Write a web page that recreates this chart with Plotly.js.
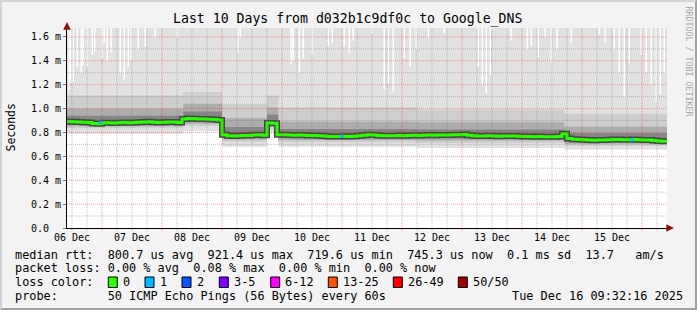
<!DOCTYPE html>
<html><head><meta charset="utf-8">
<script src="https://cdn.plot.ly/plotly-3.0.1.min.js"></script>
<style>
html,body{margin:0;padding:0;background:#f3f3f3;}
#wrap{position:relative;width:697px;height:310px;overflow:hidden;}
#chart{width:697px;height:310px;}
#frame{position:absolute;left:0;top:0;width:697px;height:310px;box-sizing:border-box;border-top:2px solid #d4d4d4;border-left:2px solid #d4d4d4;border-right:2px solid #a0a0a0;border-bottom:2px solid #a0a0a0;pointer-events:none;}
</style></head><body>
<div id="wrap"><div id="chart"></div><div id="frame"></div></div>
<script>
// ---------- data (ms, hours since 2025-12-06 10:00) ----------
const HOURS = [0,2,4,6,8,10,12,14,16,18,20,22,24,26,28,30,32,34,36,38,40,42,44,
  46,48,50,52,54,56,58,60,62,64,66,68,70,72,74,76,78,80,82,
  84,86,88,90,92,94,96,98,100,102,104,106,108,110,112,114,116,118,120,122,
  124,126,128,130,132,134,136,138,140,142,144,146,148,150,152,154,156,158,160,162,
  164,166,168,170,172,174,176,178,180,182,184,186,188,190,192,194,196,198,
  200,202,204,206,208,210,212,214,216,218,220,222,224,226,228,230,232,234,236,238,240];
const MEDIAN_MS = [0.892,0.890,0.888,0.886,0.884,0.876,0.874,0.882,0.882,0.880,0.881,0.883,0.882,0.884,0.885,0.887,0.889,0.886,0.884,0.885,0.887,0.888,0.884,
  0.912,0.918,0.916,0.913,0.912,0.910,0.908,0.904,
  0.780,0.772,0.770,0.772,0.775,0.774,0.778,0.780,0.776,
  0.880,0.878,
  0.782,0.780,0.778,0.776,0.778,0.777,0.775,0.774,0.772,0.770,0.767,0.766,0.767,0.768,0.766,0.768,0.772,0.776,0.780,0.778,
  0.774,0.772,0.773,0.772,0.774,0.773,0.775,0.776,0.774,0.776,0.778,0.777,0.778,0.779,0.778,0.780,0.782,0.784,0.776,0.772,
  0.770,0.771,0.772,0.770,0.769,0.770,0.771,0.770,0.768,0.767,0.766,0.765,0.766,0.765,0.764,0.765,0.766,0.790,
  0.750,0.744,0.742,0.740,0.737,0.735,0.736,0.737,0.740,0.742,0.741,0.740,0.739,0.741,0.740,0.738,0.737,0.733,0.728,0.726,0.735];

// smoke distribution per period
const SEG_HOURS = [0, 46.5, 62, 80, 84.5, 140, 199, 240];
const SMOKE_MIN = [0.790, 0.810, 0.680, 0.800, 0.680, 0.670, 0.655, 0.655];
const SMOKE_P10 = [0.835, 0.855, 0.722, 0.830, 0.718, 0.712, 0.688, 0.688];
const SMOKE_P20 = [0.852, 0.874, 0.742, 0.846, 0.737, 0.733, 0.706, 0.706];
const SMOKE_P30 = [0.866, 0.892, 0.758, 0.862, 0.753, 0.750, 0.722, 0.722];
const SMOKE_P70 = [0.940, 0.975, 0.845, 0.950, 0.830, 0.825, 0.795, 0.795];
const SMOKE_P80 = [1.000, 1.040, 0.920, 1.010, 0.890, 0.885, 0.850, 0.850];
const SMOKE_P90 = [1.110, 1.140, 1.040, 1.110, 1.010, 0.990, 0.955, 0.955];
const SMOKE_MAX = [1.950, 1.950, 1.950, 1.950, 1.950, 1.950, 1.950, 1.950];

// intervals whose maximum stayed below the top of the graph
const DIP_HOURS = [0.9,1.5,2.5,4.1,5.7,6.5,8.1,10.1,11.1,14.1,14.9,16.1,17.7,21.3,22.9,24.5,25.7,28.5,31.3,35.3,44.1,
  68.3,69.3,89.7,90.5,92.9,94.5,98.1,104.5,106.1,110.9,112.9,114.5,122.1,126.9,128.5,130.5,134.9,137.3,139.7,144.5,150.9,
  164.5,166.1,167.7,169.3,177.7,184.1,185.7,188.5,191.3,193.7,196.1,201.7,212.9,215.3,218.9,220.9,222.9,224.9,229.7,231.7,233.7,235.7,237.3,238.9];
const DIP_MAX = [1.16,1.22,1.22,1.35,1.30,1.36,1.35,1.45,1.48,1.42,1.55,1.40,1.47,1.30,1.24,1.35,1.40,1.50,1.52,1.60,1.60,
  1.47,1.60,1.37,1.40,1.30,1.42,1.45,1.52,1.55,1.52,1.47,1.57,1.63,1.16,1.21,1.14,1.42,1.35,1.50,1.59,1.63,
  1.35,1.20,1.13,1.28,1.57,1.49,1.52,1.43,1.60,1.38,1.50,1.55,1.62,1.55,1.49,1.30,1.10,1.38,1.45,1.30,1.20,1.05,1.12,1.30];

const LOSS1_HOURS = [13.3, 110, 226];
const LOSS1_MS = [0.885, 0.770, 0.737];

const DAY_LABELS = ['06 Dec','07 Dec','08 Dec','09 Dec','10 Dec','11 Dec','12 Dec','13 Dec','14 Dec','15 Dec'];
const Y_TICKS = [0,0.2,0.4,0.6,0.8,1.0,1.2,1.4,1.6];
const Y_LABELS = ['0.0\u00a0\u00a0','0.2 m','0.4 m','0.6 m','0.8 m','1.0 m','1.2 m','1.4 m','1.6 m'];

const TITLE = 'Last 10 Days from d032b1c9df0c to Google_DNS';
const RTT_LINE = 'median rtt:  800.7 us avg  921.4 us max  719.6 us min  745.3 us now  0.1 ms sd  13.7   am/s';
const LOSS_LINE = 'packet loss: 0.00 % avg  0.08 % max  0.00 % min  0.00 % now';
const PROBE_LINE = 'probe:       50 ICMP Echo Pings (56 Bytes) every 60s';
const STAMP = 'Tue Dec 16 09:32:16 2025';
const LOSS_LEVELS = ['0','1','2','3-5','6-12','13-25','26-49','50/50'];
const LOSS_COLORS = ['#26ff00','#00b8ff','#0059ff','#7e00ff','#ff00ff','#ff5500','#ff0000','#a00000'];

// ---------- drawing ----------
const T0 = Date.UTC(2025,11,6,10,0,0);
const HR = 3600000;
const toT = h => T0 + h*HR;
const L=67, R=667, TOP=28, BOT=228;
const px2x = px => (px-L)/(R-L);
const py2y = py => (BOT-py)/(BOT-TOP);
const nb = s => s.replace(/ /g,'\u00a0');
const MONO = 'DejaVu Sans Mono, monospace';

const segX = SEG_HOURS.map(toT);
const traces = [];
function band(lo, hi, color){
  traces.push({x:segX, y:lo, mode:'lines', line:{width:0, shape:'hv'}, hoverinfo:'skip', showlegend:false});
  traces.push({x:segX, y:hi, mode:'lines', fill:'tonexty', fillcolor:color, line:{width:0, shape:'hv'}, hoverinfo:'skip', showlegend:false});
}
band(SMOKE_MIN, SMOKE_MAX, '#e1e1e1');
const dx=[], dy=[];
DIP_HOURS.forEach((h,i)=>{dx.push(toT(h),toT(h),null); dy.push(DIP_MAX[i],SMOKE_MAX[0],null);});
traces.push({x:dx, y:dy, mode:'lines', line:{color:'#ffffff', width:1.6}, hoverinfo:'skip', showlegend:false});
band(SMOKE_P10, SMOKE_P90, '#cecece');
band(SMOKE_P20, SMOKE_P80, '#adadad');
band(SMOKE_P30, SMOKE_P70, '#868686');
const medX = HOURS.map(toT);
traces.push({x:medX, y:MEDIAN_MS, mode:'lines', line:{color:'#474747', width:6, shape:'hv'}, hoverinfo:'skip', showlegend:false});
traces.push({x:medX, y:MEDIAN_MS, mode:'lines', line:{color:'#26ff00', width:3, shape:'hv'}, showlegend:false});
traces.push({x:LOSS1_HOURS.map(toT), y:LOSS1_MS, mode:'markers', marker:{symbol:'square', size:3, color:LOSS_COLORS[1]}, showlegend:false});

// grid (drawn above the smoke, like rrdtool)
const shapes = [];
const MAJ = 'rgba(255,0,0,0.38)', MIN = 'rgba(110,110,110,0.42)', DASH='1px,1px';
const firstDay = Date.UTC(2025,11,6);
for(let k=2; k<=41; k++){
  const t = firstDay + k*6*HR;
  if(t<=toT(0) || t>=toT(240)) continue;
  const major = (k%4===0);
  shapes.push({type:'line', layer:'above', xref:'x', yref:'paper', x0:t, x1:t, y0:0, y1:1,
    line:{color:major?MAJ:MIN, width:1, dash:DASH}});
  shapes.push({type:'line', layer:'above', xref:'x', yref:'paper', x0:t, x1:t, y0:0, y1:-0.011,
    line:{color:major?'rgba(255,0,0,0.6)':'rgba(110,110,110,0.6)', width:1}});
}
for(let k=1; k<=16; k++){
  const v = k*0.1;
  shapes.push({type:'line', layer:'above', xref:'paper', yref:'y', x0:0, x1:1, y0:v, y1:v,
    line:{color:(k%2===0)?MAJ:MIN, width:1, dash:DASH}});
}
const SW_X = [108.3,145,182,219.3,270.7,328.3,393.3,458.3];
const annotations = [];
LOSS_LEVELS.forEach((lab,i)=>{
  shapes.push({type:'rect', layer:'above', xref:'paper', yref:'paper',
    x0:px2x(SW_X[i]), x1:px2x(SW_X[i]+9), y0:py2y(287.5), y1:py2y(277),
    line:{color:'#000', width:1}, fillcolor:LOSS_COLORS[i]});
  annotations.push({xref:'paper', yref:'paper', x:px2x(SW_X[i]+12.5), y:py2y(282.3), xanchor:'left', yanchor:'middle',
    text:nb(lab), showarrow:false, font:{family:MONO, size:11.85, color:'#000'}});
});
const lineAnn = (txt, py) => ({xref:'paper', yref:'paper', x:px2x(13), y:py2y(py), xanchor:'left', yanchor:'middle',
  text:nb(txt), showarrow:false, font:{family:MONO, size:11.85, color:'#000'}});
annotations.push(lineAnn(RTT_LINE, 254.5));
annotations.push(lineAnn(LOSS_LINE, 268.4));
annotations.push(lineAnn('loss color:', 282.3));
annotations.push(lineAnn(PROBE_LINE, 296.1));
annotations.push({xref:'paper', yref:'paper', x:px2x(685), y:py2y(296.1), xanchor:'right', yanchor:'middle',
  text:nb(STAMP), showarrow:false, font:{family:MONO, size:11.85, color:'#000'}});
annotations.push({xref:'paper', yref:'paper', x:px2x(347.7), y:py2y(19), xanchor:'center', yanchor:'middle',
  text:TITLE, showarrow:false, font:{family:MONO, size:13.2, color:'#000'}});
annotations.push({xref:'paper', yref:'paper', x:px2x(10.5), y:py2y(128), xanchor:'center', yanchor:'middle',
  text:'Seconds', textangle:-90, showarrow:false, font:{family:MONO, size:11.5, color:'#000'}});
annotations.push({xref:'paper', yref:'paper', x:px2x(688.5), y:py2y(61), xanchor:'center', yanchor:'middle',
  text:nb('RRDTOOL / TOBI OETIKER'), textangle:90, showarrow:false, font:{family:MONO, size:8.3, color:'#a8a8a8'}});
annotations.push({xref:'paper', yref:'paper', x:px2x(674), y:0, ax:-8, ay:0, text:'', showarrow:true,
  arrowhead:2, arrowsize:1.1, arrowwidth:1.4, arrowcolor:'#8b1010'});
annotations.push({xref:'paper', yref:'paper', x:0, y:py2y(22), ax:0, ay:7, text:'', showarrow:true,
  arrowhead:2, arrowsize:1.1, arrowwidth:1.4, arrowcolor:'#8b1010'});

const layout = {
  width:697, height:310,
  margin:{l:L, r:697-R, t:TOP, b:310-BOT, pad:0},
  paper_bgcolor:'#f3f3f3', plot_bgcolor:'#ffffff',
  font:{family:MONO, color:'#000'},
  showlegend:false,
  xaxis:{type:'date', range:[toT(0), toT(240)], tickmode:'array',
    tickvals:DAY_LABELS.map((d,i)=>Date.UTC(2025,11,6+i,12)), ticktext:DAY_LABELS,
    ticks:'', showgrid:false, zeroline:false, showline:true, linecolor:'#000', linewidth:1,
    tickfont:{family:MONO, size:10, color:'#000'}, fixedrange:true},
  yaxis:{range:[0,1.675], tickmode:'array', tickvals:Y_TICKS, ticktext:Y_LABELS,
    ticks:'outside', ticklen:3, tickcolor:'#777', showgrid:false, zeroline:false,
    showline:true, linecolor:'#000', linewidth:1,
    tickfont:{family:MONO, size:10, color:'#000'}, fixedrange:true},
  shapes:shapes, annotations:annotations
};
Plotly.newPlot('chart', traces, layout, {displayModeBar:false, staticPlot:true});
</script>
</body></html>
